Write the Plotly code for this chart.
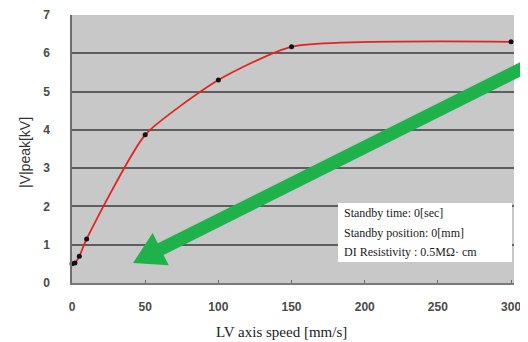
import plotly.graph_objects as go

# ---- data ----
speed = [0, 2, 5, 10, 50, 100, 150, 300]          # LV axis speed [mm/s]
vpeak = [0.5, 0.52, 0.7, 1.15, 3.87, 5.3, 6.17, 6.3]  # |V|peak [kV]
x_ticks = [0, 50, 100, 150, 200, 250, 300]
y_ticks = [0, 1, 2, 3, 4, 5, 6, 7]
info_lines = ["Standby time: 0[sec]", "Standby position: 0[mm]", "DI Resistivity : 0.5MΩ· cm"]

# page body has an 8px default margin; figure is sized so it ends at the window edge
OFF = 8
W, H = 528 - OFF, 342 - OFF
ML, MR, MT, MB = 72 - OFF, 14, 15 - OFF, 59
PW, PH = W - ML - MR, H - MT - MB

def px(xp, yp):
    # window pixel -> paper fraction
    xp -= OFF
    yp -= OFF
    return ((xp - ML) / PW, (H - MB - yp) / PH)

fig = go.Figure()
fig.add_trace(go.Scatter(
    x=speed, y=vpeak, mode="lines+markers",
    line=dict(color="#e3231f", width=1.8, shape="spline", smoothing=0.55),
    marker=dict(color="#111111", size=5),
    cliponaxis=False, showlegend=False,
))

# green arrow (decoration) in window pixels -> paper
arrow_px = [(133, 263), (168.8, 265.2), (163.6, 254.9), (538.2, 67.6),
            (532.4, 56.0), (157.8, 243.3), (152.6, 233.0)]
pts = [px(a, b) for a, b in arrow_px]
path = "M " + " L ".join(f"{a:.4f},{b:.4f}" for a, b in pts) + " Z"
shapes = [
    dict(type="path", xref="paper", yref="paper", path=path,
         fillcolor="#1fb24a", line=dict(width=0), layer="above"),
]
# info box
x0, y0 = px(338, 262)
x1, y1 = px(512, 203)
shapes.append(dict(type="rect", xref="paper", yref="paper", x0=x0, y0=y0, x1=x1, y1=y1,
                   fillcolor="white", line=dict(width=0), layer="above"))

annotations = []
for i, t in enumerate(info_lines):
    ax_, ay_ = px(342, 213 + 19.5 * i)
    annotations.append(dict(x=ax_, y=ay_, xref="paper", yref="paper", text=t,
                            showarrow=False, xanchor="left", yanchor="middle",
                            font=dict(family="Liberation Serif", size=12, color="#1a1a1a")))
# axis titles
tx, ty = px(25, 153)
annotations.append(dict(x=tx, y=ty, xref="paper", yref="paper", text="|V|peak[kV]",
                        showarrow=False, textangle=-90, xanchor="center", yanchor="middle",
                        font=dict(family="Liberation Sans", size=14, color="#333333")))
tx, ty = px(281, 332)
annotations.append(dict(x=tx, y=ty, xref="paper", yref="paper", text="LV axis speed [mm/s]",
                        showarrow=False, xanchor="center", yanchor="middle",
                        font=dict(family="Liberation Serif", size=15, color="#222222")))

fig.update_layout(
    width=W, height=H,
    margin=dict(l=ML, r=MR, t=MT, b=MB, pad=0, autoexpand=False),
    paper_bgcolor="white", plot_bgcolor="#c8c8c8",
    shapes=shapes, annotations=annotations,
    xaxis=dict(range=[0, 302], tickvals=x_ticks, showgrid=False, zeroline=False,
               automargin=False,
               showline=True, linecolor="#7a7a7a", linewidth=1.5,
               ticks="inside", ticklen=3, tickcolor="#6a6a6a",
               ticklabelstandoff=12,
               tickfont=dict(family="Liberation Sans", size=12, color="#4a4a4a", weight="bold")),
    yaxis=dict(range=[0, 7], tickvals=y_ticks, showgrid=True, gridcolor="#5e5e5e", gridwidth=1.5,
               automargin=False,
               zeroline=False, showline=True, linecolor="#6e6e6e", linewidth=1.5,
               ticks="", ticklabelstandoff=18,
               tickfont=dict(family="Liberation Sans", size=12, color="#4a4a4a", weight="bold")),
)

fig.write_html("out.html")
